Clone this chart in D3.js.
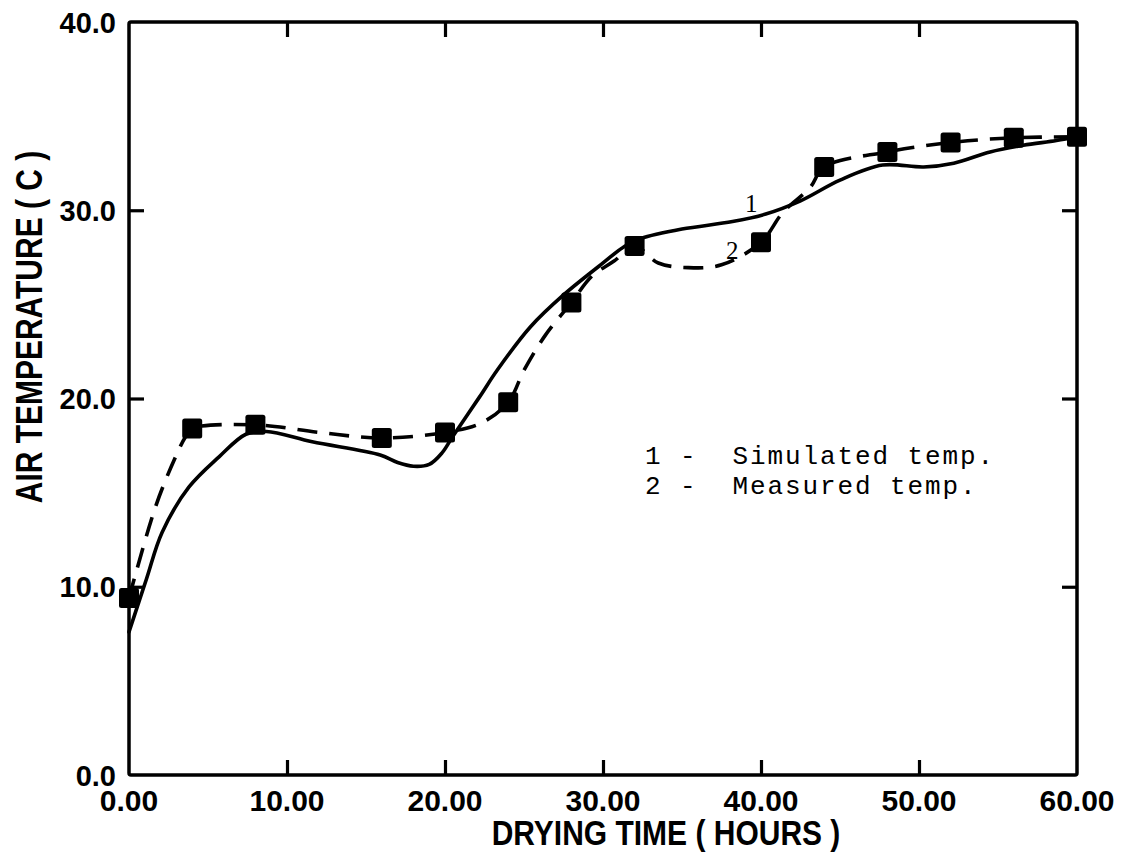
<!DOCTYPE html>
<html>
<head>
<meta charset="utf-8">
<script src="https://cdn.jsdelivr.net/npm/d3@7"></script>
<style>
  html, body { margin: 0; padding: 0; background: #fff; }
  svg { display: block; }
  text { fill: #000; }
</style>
</head>
<body>
<svg id="chart" width="1127" height="857"></svg>
<script>
// Measured air temperature (squares) at sampling times
const sampleHours = [0, 4, 8, 16, 20, 24, 28, 32, 40, 44, 48, 52, 56, 60];
const sampleTemps = [9.4, 18.4, 18.6, 17.9, 18.2, 19.8, 25.1, 28.1, 28.3, 32.3, 33.1, 33.6, 33.85, 33.9];

// Hand-drawn measured curve (dashed)
const measuredCurveHours = [0, 1.7, 3.0, 3.6, 4, 8, 12, 16, 20, 22.3, 24, 25.0, 26.3, 28, 29.3, 30.7, 32, 33.5, 35.4, 37.5, 40, 41.4, 43.1, 44, 48, 52, 56, 60];
const measuredCurveTemps = [9.4, 14.3, 17.0, 18.0, 18.4, 18.6, 18.2, 17.9, 18.2, 18.7, 19.8, 21.5, 23.3, 25.1, 26.5, 27.3, 28.1, 27.2, 26.95, 27.1, 28.3, 29.9, 31.2, 32.3, 33.1, 33.6, 33.85, 33.9];

// Simulated curve (solid)
const simHours = [0, 1.1, 2.1, 3.8, 5.7, 7.4, 8.7, 11.6, 15.9, 17.0, 18.0, 19.0, 19.8, 20.5, 22.2, 23.3, 25.4, 27.5, 29.7, 31.4, 32.4, 35.0, 38.2, 40.3, 42.5, 45.0, 47.7, 50.3, 52.2, 54.5, 56.6, 58.7, 60];
const simTemps = [7.6, 10.4, 12.9, 15.3, 16.9, 18.1, 18.25, 17.7, 17.0, 16.6, 16.4, 16.5, 17.1, 18.0, 20.1, 21.5, 23.8, 25.5, 27.0, 28.1, 28.5, 29.0, 29.4, 29.8, 30.5, 31.6, 32.4, 32.3, 32.5, 33.1, 33.45, 33.7, 33.9];

// Axis ticks and labels
const xTicks = [0, 10, 20, 30, 40, 50, 60];
const xTickLabels = ["0.00", "10.00", "20.00", "30.00", "40.00", "50.00", "60.00"];
const yTicks = [0, 10, 20, 30, 40];
const yTickLabels = ["0.0", "10.0", "20.0", "30.0", "40.0"];

const xTitle = "DRYING TIME ( HOURS )";
const yTitle = "AIR TEMPERATURE ( C )";
const legendLines = ["1 -  Simulated temp.", "2 -  Measured temp."];

const svg = d3.select("#chart");
const plotLeft = 129, plotRight = 1077, plotTop = 22, plotBottom = 775;

const x = d3.scaleLinear().domain([0, 60]).range([plotLeft, plotRight]);
const y = d3.scaleLinear().domain([0, 40]).range([plotBottom, plotTop]);

const boldFont = "'Liberation Sans', Arial, sans-serif";

// Frame
svg.append("rect")
  .attr("x", plotLeft).attr("y", plotTop)
  .attr("width", plotRight - plotLeft).attr("height", plotBottom - plotTop)
  .attr("fill", "none").attr("stroke", "#000")
  .attr("stroke-width", 3.5).attr("rx", 2);

// Inward ticks on all four sides, using d3 axes
const tickLen = 15;
const innerX = xTicks.filter(v => v > 0 && v < 60);
const innerY = yTicks.filter(v => v > 0 && v < 40);

function styleTicks(g) {
  g.select(".domain").remove();
  g.selectAll(".tick text").remove();
  g.selectAll(".tick line").attr("stroke", "#000").attr("stroke-width", 3.2);
}
svg.append("g").attr("transform", `translate(0,${plotBottom})`)
  .call(d3.axisBottom(x).tickValues(innerX).tickSize(-tickLen)).call(styleTicks);
svg.append("g").attr("transform", `translate(0,${plotTop})`)
  .call(d3.axisTop(x).tickValues(innerX).tickSize(-tickLen)).call(styleTicks);
svg.append("g").attr("transform", `translate(${plotLeft},0)`)
  .call(d3.axisLeft(y).tickValues(innerY).tickSize(-tickLen)).call(styleTicks);
svg.append("g").attr("transform", `translate(${plotRight},0)`)
  .call(d3.axisRight(y).tickValues(innerY).tickSize(-tickLen)).call(styleTicks);

// Tick labels
svg.append("g").selectAll("text").data(xTicks).join("text")
  .attr("x", d => x(d)).attr("y", 811)
  .attr("text-anchor", "middle")
  .attr("font-family", boldFont).attr("font-weight", "bold").attr("font-size", 30)
  .text((d, i) => xTickLabels[i]);

svg.append("g").selectAll("text").data(yTicks).join("text")
  .attr("x", plotLeft - 13).attr("y", d => y(d) + 10.5)
  .attr("text-anchor", "end")
  .attr("font-family", boldFont).attr("font-weight", "bold").attr("font-size", 29)
  .text((d, i) => yTickLabels[i]);

// Axis titles
svg.append("text")
  .attr("transform", "translate(666,845) scale(1,1.15)")
  .attr("text-anchor", "middle")
  .attr("font-family", boldFont).attr("font-weight", "bold").attr("font-size", 30)
  .attr("xml:space", "preserve")
  .style("white-space", "pre")
  .text(xTitle);

svg.append("text")
  .attr("transform", "translate(42,327) rotate(-90) scale(1,1.25)")
  .attr("text-anchor", "middle")
  .attr("font-family", boldFont).attr("font-weight", "bold").attr("font-size", 30)
  .attr("xml:space", "preserve")
  .style("white-space", "pre")
  .text(yTitle);

// Curves
const line = d3.line()
  .x(d => x(d[0])).y(d => y(d[1]))
  .curve(d3.curveCatmullRom.alpha(0.5));

const simPts = simHours.map((h, i) => [h, simTemps[i]]);
const measPts = measuredCurveHours.map((h, i) => [h, measuredCurveTemps[i]]);

svg.append("path").datum(simPts)
  .attr("d", line)
  .attr("fill", "none").attr("stroke", "#000")
  .attr("stroke-width", 3.6).attr("stroke-linecap", "round").attr("stroke-linejoin", "round");

svg.append("path").datum(measPts)
  .attr("d", line)
  .attr("fill", "none").attr("stroke", "#000")
  .attr("stroke-width", 3.6).attr("stroke-dasharray", "20,12");

// Measured sample squares
const sq = 20;
svg.append("g").selectAll("rect")
  .data(sampleHours.map((h, i) => [h, sampleTemps[i]]))
  .join("rect")
  .attr("x", d => x(d[0]) - sq / 2).attr("y", d => y(d[1]) - sq / 2)
  .attr("width", sq).attr("height", sq).attr("rx", 2.5)
  .attr("fill", "#000");

// Curve identifiers
svg.append("text").attr("x", 745).attr("y", 212)
  .attr("font-family", "'Liberation Serif', 'Times New Roman', serif").attr("font-size", 25)
  .text("1");
svg.append("text").attr("x", 726).attr("y", 259)
  .attr("font-family", "'Liberation Serif', 'Times New Roman', serif").attr("font-size", 25)
  .text("2");

// Legend
svg.append("g").selectAll("text").data(legendLines).join("text")
  .attr("x", 645).attr("y", (d, i) => 464 + i * 30)
  .attr("font-family", "'Liberation Mono', 'DejaVu Sans Mono', monospace")
  .attr("font-size", 26)
  .attr("letter-spacing", 1.9)
  .attr("xml:space", "preserve")
  .style("white-space", "pre")
  .text(d => d);
</script>
</body>
</html>
